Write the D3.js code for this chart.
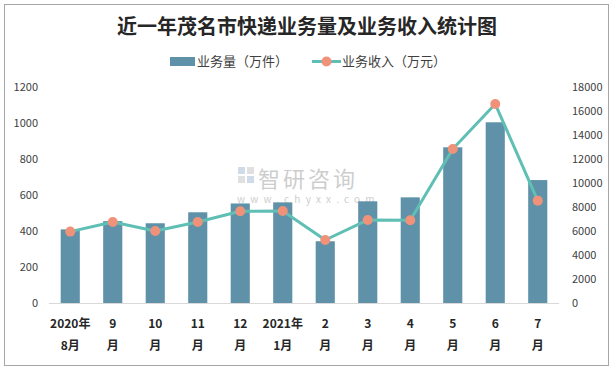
<!DOCTYPE html>
<html>
<head>
<meta charset="utf-8">
<script src="https://cdn.jsdelivr.net/npm/d3@7"></script>
<style>
body{margin:0;background:#fff;}
svg text{font-family:"Noto Sans CJK SC","Noto Sans",sans-serif;}
</style>
</head>
<body>
<svg></svg>
<script>
// months, two rows per label
var months = ["2020年|8月","9|月","10|月","11|月","12|月","2021年|1月","2|月","3|月","4|月","5|月","6|月","7|月"]
var volume = [409,455,443,504,553,559,343,565,587,865,1004,683]
var income = [5950,6750,6000,6750,7640,7670,5250,6920,6900,12830,16580,8530]
var leftTicks = [0,200,400,600,800,1000,1200]
var rightTicks = [0,2000,4000,6000,8000,10000,12000,14000,16000,18000]

var screen = {width:615,height:371}
var margins = {top:87,left:49,right:56,bottom:68}

var svg = d3.select("svg")
    .attr("width",screen.width)
    .attr("height",screen.height)

// frame
svg.append("rect")
   .attr("x",4.5).attr("y",4.5)
   .attr("width",604).attr("height",361)
   .attr("fill","#fff")
   .attr("stroke","#a6a6a6")

var width = screen.width - margins.left - margins.right
var height = screen.height - margins.top - margins.bottom

var xScale = d3.scaleBand()
    .domain(months)
    .range([margins.left, margins.left+width])
    .paddingInner(0.55)
    .paddingOuter(0.275)

var yLeft = d3.scaleLinear().domain([0,1200]).range([margins.top+height, margins.top])
var yRight = d3.scaleLinear().domain([0,18000]).range([margins.top+height, margins.top])

// title
svg.append("text")
   .attr("x",307).attr("y",34)
   .attr("text-anchor","middle")
   .attr("font-size",20)
   .attr("font-weight","bold")
   .attr("fill","#262626")
   .text("近一年茂名市快递业务量及业务收入统计图")

// legend
var lg = svg.append("g").attr("font-size",13).attr("fill","#404040")
lg.append("rect").attr("x",170).attr("y",57).attr("width",25).attr("height",9).attr("fill","#5f92a8")
lg.append("text").attr("x",197).attr("y",66).text("业务量（万件）")
lg.append("line").attr("x1",312).attr("x2",341).attr("y1",61.5).attr("y2",61.5)
  .attr("stroke","#5fbfb5").attr("stroke-width",3)
lg.append("circle").attr("cx",326.5).attr("cy",61.5).attr("r",5).attr("fill","#f0927a")
lg.append("text").attr("x",342).attr("y",66).text("业务收入（万元）")

// watermark
var wm = svg.append("g").attr("opacity",0.55)
wm.append("rect").attr("x",238).attr("y",167).attr("width",7).attr("height",7).attr("fill","#a9bfd6")
wm.append("rect").attr("x",247).attr("y",167).attr("width",7).attr("height",7).attr("fill","#c7c7c7")
wm.append("rect").attr("x",238).attr("y",176).attr("width",7).attr("height",7).attr("fill","#c7c7c7")
wm.append("rect").attr("x",247).attr("y",176).attr("width",7).attr("height",7).attr("fill","#a9bfd6")
wm.append("text").attr("x",258).attr("y",187).attr("font-size",22).attr("fill","#a6a6a6")
  .attr("letter-spacing",3).text("智研咨询")
wm.append("text").attr("x",237).attr("y",203).attr("font-size",10).attr("fill","#a6a6a6")
  .attr("letter-spacing",5.2).text("www.chyxx.com")

// left axis labels
svg.append("g").selectAll("text")
   .data(leftTicks).enter().append("text")
   .attr("x",38).attr("y",function(d){return yLeft(d)+4})
   .attr("text-anchor","end")
   .attr("font-size",11).attr("fill","#404040")
   .text(function(d){return d})

// right axis labels
svg.append("g").selectAll("text")
   .data(rightTicks).enter().append("text")
   .attr("x",572).attr("y",function(d){return yRight(d)+4})
   .attr("font-size",11).attr("fill","#404040")
   .text(function(d){return d})

// bars
svg.append("g").selectAll("rect")
   .data(volume).enter().append("rect")
   .attr("x",function(d,i){return xScale(months[i])})
   .attr("width",xScale.bandwidth())
   .attr("y",function(d){return yLeft(d)})
   .attr("height",function(d){return yLeft(0)-yLeft(d)})
   .attr("fill","#5f92a8")

// baseline
svg.append("line")
   .attr("x1",margins.left).attr("x2",margins.left+width)
   .attr("y1",yLeft(0)+0.5).attr("y2",yLeft(0)+0.5)
   .attr("stroke","#d9d9d9")

// income line
var line = d3.line()
    .x(function(d,i){return xScale(months[i])+xScale.bandwidth()/2})
    .y(function(d){return yRight(d)})

svg.append("path")
   .datum(income)
   .attr("d",line)
   .attr("fill","none")
   .attr("stroke","#5fbfb5")
   .attr("stroke-width",3)
   .attr("stroke-linejoin","round")

svg.append("g").selectAll("circle")
   .data(income).enter().append("circle")
   .attr("cx",function(d,i){return xScale(months[i])+xScale.bandwidth()/2})
   .attr("cy",function(d){return yRight(d)})
   .attr("r",5)
   .attr("fill","#f0927a")

// x labels
var xl = svg.append("g").selectAll("text")
   .data(months).enter().append("text")
   .attr("text-anchor","middle")
   .attr("font-size",12).attr("font-weight","bold").attr("fill","#262626")
   .attr("transform",function(d){return "translate("+(xScale(d)+xScale.bandwidth()/2)+",0)"})

xl.append("tspan").attr("x",0).attr("y",328).text(function(d){return d.split("|")[0]})
xl.append("tspan").attr("x",0).attr("y",350).text(function(d){return d.split("|")[1]})
</script>
</body>
</html>
